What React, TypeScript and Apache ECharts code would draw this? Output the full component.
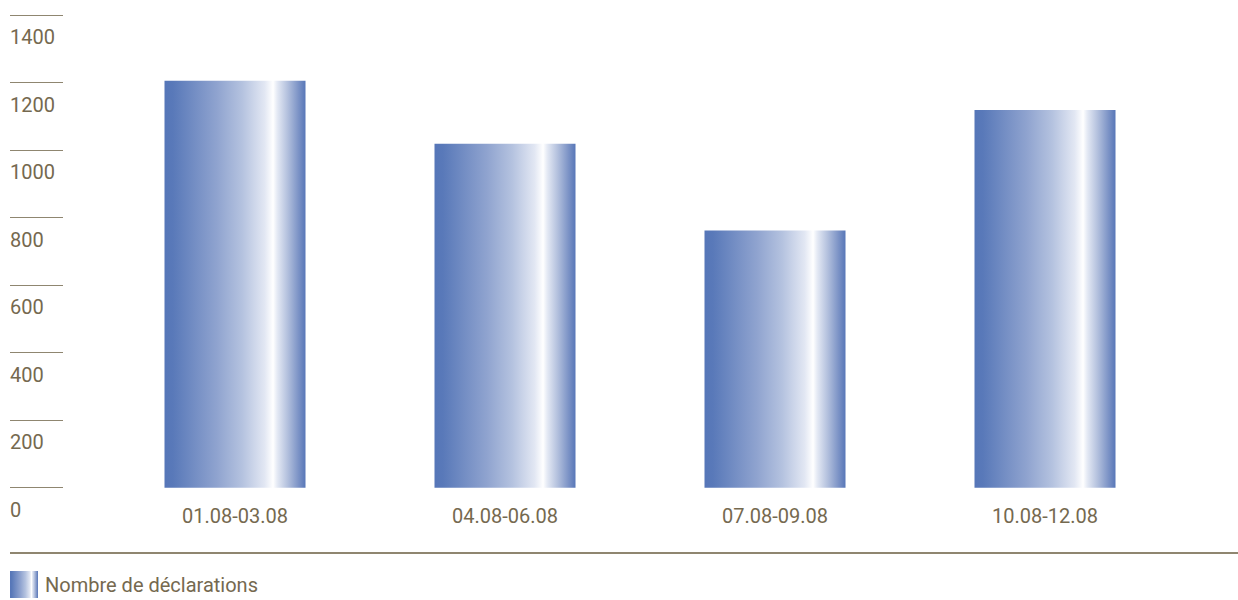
import React, { useEffect, useRef } from "react";
import * as echarts from "echarts";

const categories = ["01.08-03.08", "04.08-06.08", "07.08-09.08", "10.08-12.08"];
const declarations = [1205, 1019, 762, 1119];
const seriesName = "Nombre de déclarations";
const yMin = 0;
const yMax = 1400;
const yInterval = 200;

const TEXT = "#75694f";
const LINE = "#8f8670";
const FONT = "Roboto";

const barGradient = () =>
  new echarts.graphic.LinearGradient(0, 0, 1, 0, [
    { offset: 0, color: "#5676b8" },
    { offset: 0.06, color: "#5979b9" },
    { offset: 0.37, color: "#8fa3cf" },
    { offset: 0.55, color: "#b4c2df" },
    { offset: 0.71, color: "#e2e7f3" },
    { offset: 0.77, color: "#ffffff" },
    { offset: 0.8, color: "#e4e9f4" },
    { offset: 0.87, color: "#b5c2de" },
    { offset: 0.95, color: "#7c93c6" },
    { offset: 1, color: "#5877b8" },
  ]);

export default function App() {
  const ref = useRef<HTMLDivElement>(null);
  useEffect(() => {
    document.body.style.margin = "0";
    const chart = echarts.init(ref.current!, undefined, { renderer: "svg" });
    chart.setOption({
      animation: false,
      textStyle: { fontFamily: FONT },
      grid: [
        { left: 100, right: 58, top: 15, bottom: 112.3 },
        { left: 10, width: 53, top: 15, bottom: 112.3 },
      ],
      xAxis: [
        {
          type: "category",
          gridIndex: 0,
          data: categories,
          axisLine: { show: false },
          axisTick: { show: false },
          axisLabel: { color: TEXT, fontSize: 20, fontFamily: FONT, margin: 18 },
        },
        { type: "value", gridIndex: 1, show: false },
      ],
      yAxis: [
        { type: "value", gridIndex: 0, min: yMin, max: yMax, interval: yInterval, show: false },
        {
          type: "value",
          gridIndex: 1,
          min: yMin,
          max: yMax,
          interval: yInterval,
          axisLine: { show: false },
          axisTick: { show: false },
          splitLine: { show: true, lineStyle: { color: LINE, width: 1 } },
          axisLabel: {
            inside: true,
            margin: 0,
            align: "left",
            verticalAlign: "top",
            padding: [12, 0, 0, 0],
            color: TEXT,
            fontSize: 20,
            fontFamily: FONT,
            formatter: (v: number) => String(v),
          },
        },
      ],
      legend: {
        left: 10,
        top: 571,
        padding: 0,
        itemWidth: 28,
        itemHeight: 27,
        itemGap: 10,
        icon: "rect",
        textStyle: { color: TEXT, fontSize: 20, fontFamily: FONT, padding: [0, 0, 0, 2] },
        data: [seriesName],
      },
      graphic: [
        {
          type: "line",
          shape: { x1: 10, y1: 553, x2: 1238, y2: 553 },
          style: { stroke: LINE, lineWidth: 2 },
        },
      ],
      series: [
        {
          name: seriesName,
          type: "bar",
          xAxisIndex: 0,
          yAxisIndex: 0,
          data: declarations,
          barWidth: 141,
          itemStyle: { color: barGradient() },
        },
      ],
    });
    return () => chart.dispose();
  }, []);
  return <div ref={ref} style={{ width: 1238, height: 600 }} />;
}
